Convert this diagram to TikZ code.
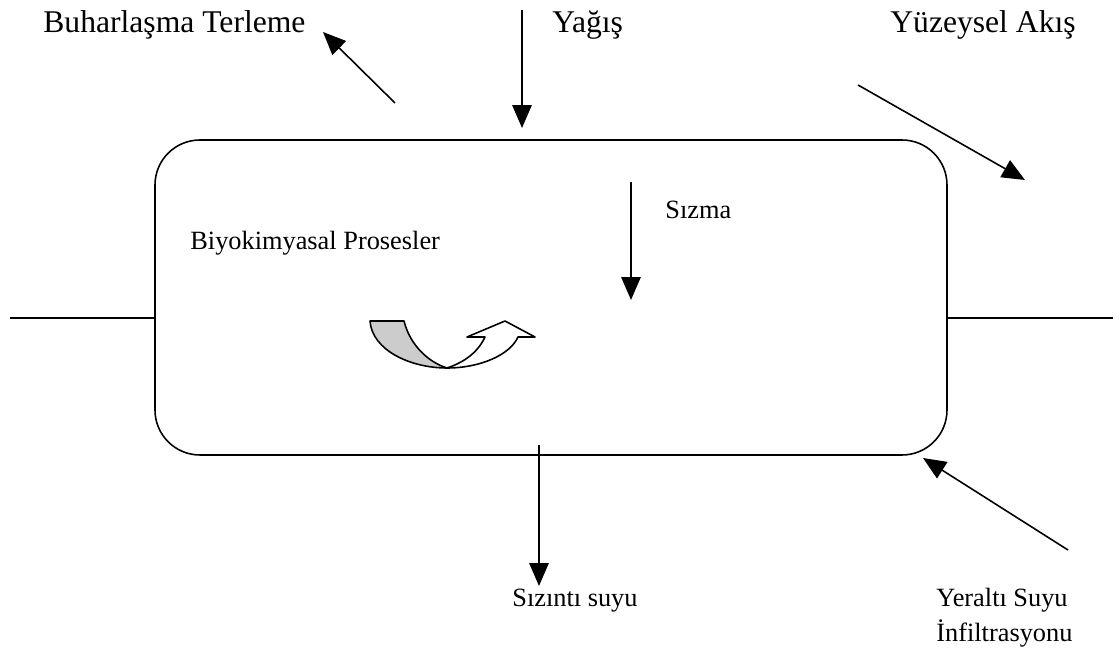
\documentclass[tikz,border=0pt]{standalone}
\usepackage{fontspec}
\setmainfont{Liberation Serif}
\usetikzlibrary{arrows.meta}
\begin{document}
\begin{tikzpicture}[x=0.02cm,y=-0.02cm,>={Triangle[length=13pt,width=11pt]},line join=round,
    big/.style={anchor=base west,inner sep=0pt,font=\fontsize{18}{21}\selectfont},
    small/.style={anchor=base west,inner sep=0pt,font=\fontsize{15}{18}\selectfont},
    flow/.style={->,line width=0.9pt}]
  \useasboundingbox (0,0) rectangle (1120,661);
  % kutu
  \draw[line width=0.9pt,rounded corners=45*0.02cm] (155,140) rectangle (947,455);
  \coordinate (kl) at (155,318);
  \coordinate (kr) at (947,318);
  \draw[line width=0.9pt] (10,318) -- (kl);
  \draw[line width=0.9pt] (kr) -- (1113,318);
  % etiketler
  \node[big] (buhar) at (43,33) {Buharlaşma Terleme};
  \node[big] (yagis) at (552,33) {Yağış};
  \node[big] (akis) at (890,33) {Yüzeysel Akış};
  \node[small] (sizma) at (665,219) {Sızma};
  \node[small] (bio) at (190,250) {Biyokimyasal Prosesler};
  \node[small] (sizinti) at (512,607) {Sızıntı suyu};
  \node[small] (yeralti) at (936,607) {Yeraltı Suyu};
  \node[small] (infil) at (936,642) {İnfiltrasyonu};
  % oklar
  \coordinate (b1) at (395,103); \coordinate (b2) at (323,32);
  \coordinate (y1) at (522,10);  \coordinate (y2) at (522,128);
  \coordinate (a1) at (858,85);  \coordinate (a2) at (1025,180);
  \coordinate (s1) at (631,182); \coordinate (s2) at (631,300);
  \coordinate (z1) at (539,445); \coordinate (z2) at (539,586);
  \coordinate (g1) at (1068,550);\coordinate (g2) at (923,458);
  \foreach \p/\q in {b1/b2,y1/y2,a1/a2,s1/s2,z1/z2,g1/g2}
    \draw[flow] (\p) -- (\q);
  % donen ok
  \filldraw[fill=black!20,line width=0.9pt] (370,321) -- (404,321)
    .. controls (410,345) and (428,362) .. (447,368)
    .. controls (410,368) and (372,350) .. (370,321) -- cycle;
  \filldraw[fill=white,line width=0.9pt] (447,368)
    .. controls (480,368) and (510,355) .. (518,337)
    -- (535,337) -- (505,321) -- (467,337) -- (485,337)
    .. controls (478,352) and (465,362) .. (447,368) -- cycle;
\end{tikzpicture}
\end{document}
